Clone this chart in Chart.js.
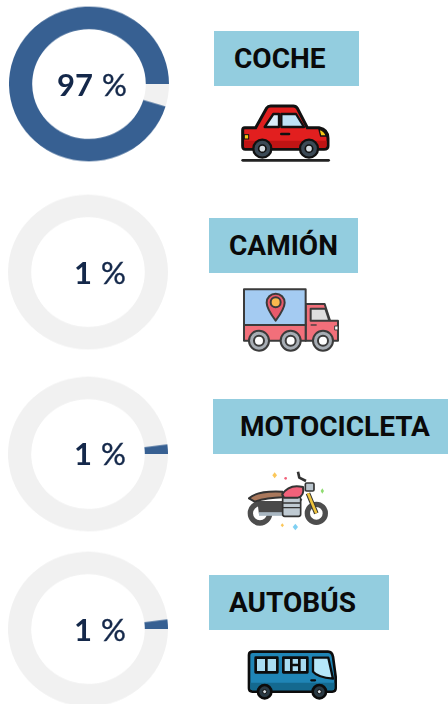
<!DOCTYPE html>
<html lang="es">
<head>
<meta charset="UTF-8">
<title>Vehículos</title>
<script src="https://cdn.jsdelivr.net/npm/chart.js"></script>
<style>
  html, body { margin: 0; padding: 0; background: #fff; }
  body { position: relative; width: 448px; height: 704px; overflow: hidden; }
  canvas { position: absolute; transform: scaleY(0.967); }
  #d0 { left: 9px; top: 4px; }
  #d1 { left: 8px; top: 192px; }
  #d2 { left: 8px; top: 374px; }
  #d3 { left: 8px; top: 549px; }
  .pct { position: absolute; font: 700 31px/40px Lato, sans-serif; color: #14284a; white-space: nowrap; }
  .pct span { font-weight: 400; margin-left: 9px; -webkit-text-stroke: 0.4px #14284a; }
  #p0 { left: 57px; top: 64px; }
  #p1 { left: 74px; top: 252px; }
  #p2 { left: 74px; top: 433px; }
  #p3 { left: 74px; top: 609px; }
  .tag { position: absolute; background: #93cddf; color: #0a0a0a; font: 700 28px/55px Roboto, sans-serif; height: 55px; white-space: nowrap; box-sizing: border-box; }
  #t0 { left: 214px; top: 31px; width: 145px; padding-left: 20px; }
  #t1 { left: 209px; top: 218px; width: 149px; padding-left: 20px; }
  #t2 { left: 213px; top: 399px; width: 235px; padding-left: 27px; }
  #t3 { left: 209px; top: 575px; width: 180px; padding-left: 20px; }
  svg { position: absolute; left: 0; top: 0; }
</style>
</head>
<body>
  <canvas id="d0" width="160" height="160"></canvas>
  <canvas id="d1" width="160" height="160"></canvas>
  <canvas id="d2" width="160" height="160"></canvas>
  <canvas id="d3" width="160" height="160"></canvas>
  <div class="pct" id="p0"></div>
  <div class="pct" id="p1"></div>
  <div class="pct" id="p2"></div>
  <div class="pct" id="p3"></div>
  <div class="tag" id="t0"></div>
  <div class="tag" id="t1"></div>
  <div class="tag" id="t2"></div>
  <div class="tag" id="t3"></div>

  <!-- icons, drawn in 3x crop units -->
  <svg width="448" height="704" viewBox="0 0 448 704">
    <g transform="translate(224 90) scale(.3333)">
      <path d="M62 113H95L128 54Q132 48 140 48H208Q216 48 220 55L250 113H285Q312 118 312 145V168Q312 178 300 178H64Q56 178 56 168V120Q56 113 62 113Z" fill="#e21f1f" stroke="#111" stroke-width="9"/>
      <path d="M60 152H308V168Q308 174 300 174H64Q60 174 60 168Z" fill="#c01414"/>
      <path d="M148 72H165V111H122Z" fill="#d9eefa" stroke="#111" stroke-width="7" stroke-linejoin="round"/>
      <path d="M172 72H216L240 111H172Z" fill="#bfe2f6" stroke="#111" stroke-width="7" stroke-linejoin="round"/>
      <path d="M172 132H195" stroke="#111" stroke-width="8" stroke-linecap="round"/>
      <path d="M285 118Q303 122 307 138H290Z" fill="#f7c815" stroke="#111" stroke-width="4"/>
      <rect x="61" y="134" width="13" height="13" fill="#f7c815" stroke="#111" stroke-width="3"/>
      <circle cx="115" cy="176" r="27" fill="#3c4a56" stroke="#111" stroke-width="7"/>
      <circle cx="115" cy="176" r="11" fill="#d5dde2" stroke="#111" stroke-width="5"/>
      <circle cx="255" cy="176" r="27" fill="#3c4a56" stroke="#111" stroke-width="7"/>
      <circle cx="255" cy="176" r="11" fill="#d5dde2" stroke="#111" stroke-width="5"/>
      <path d="M56 211H314" stroke="#222" stroke-width="8" stroke-linecap="round"/>
    </g>
    <g transform="translate(224 280) scale(.3333)" stroke="#3b3b3b" stroke-width="6" stroke-linejoin="round">
      <path d="M245 72H302L318 122H342V182H245Z" fill="#f26f7a"/>
      <rect x="60" y="135" width="185" height="47" fill="#f26f7a"/>
      <rect x="60" y="28" width="185" height="107" fill="#a4cbf2"/>
      <path d="M260 86H304L316 122H260Z" fill="#dedede"/>
      <path d="M260 135H278" stroke-width="4"/>
      <rect x="332" y="138" width="10" height="12" fill="#fff" stroke-width="3"/>
      <path d="M155 122Q128 85 128 68A27 27 0 0 1 182 68Q182 85 155 122Z" fill="#e85a6b"/>
      <circle cx="155" cy="67" r="15" fill="#fbb84d"/>
      <circle cx="105" cy="182" r="30" fill="#a7adb4"/>
      <circle cx="105" cy="182" r="15" fill="#fff"/>
      <circle cx="200" cy="182" r="30" fill="#a7adb4"/>
      <circle cx="200" cy="182" r="15" fill="#fff"/>
      <circle cx="297" cy="182" r="30" fill="#a7adb4"/>
      <circle cx="297" cy="182" r="15" fill="#fff"/>
    </g>
    <g transform="translate(234 465) scale(.3333)" stroke="#333" stroke-width="5" stroke-linejoin="round">
      <circle cx="78" cy="145" r="29" fill="#fff" stroke="#4d4d4d" stroke-width="16"/>
      <circle cx="247" cy="145" r="27" fill="#fff" stroke="#4d4d4d" stroke-width="16"/>
      <path d="M70 108H148V150L75 148Z" fill="#4a4a4a" stroke="none"/>
      <path d="M75 147H165" stroke="#a9b7c2" stroke-width="11"/>
      <path d="M200 100L165 152" stroke="#4a4a4a" stroke-width="12"/>
      <rect x="146" y="96" width="54" height="58" rx="6" fill="#bfcad2"/>
      <path d="M146 114H200M146 128H200" stroke-width="4"/>
      <path d="M45 100Q70 76 146 80V97Q100 98 62 110Z" fill="#a9785c" stroke-width="6"/>
      <path d="M145 88Q165 56 207 66Q212 92 192 98H150Z" fill="#f2617a" stroke-width="6"/>
      <path d="M222 85L247 145" stroke="#333" stroke-width="14"/>
      <path d="M222 85L247 145" stroke="#f0c53d" stroke-width="8"/>
      <path d="M192 20L196 38L216 48" fill="none" stroke="#333" stroke-width="8"/>
      <rect x="214" y="54" width="26" height="24" rx="4" fill="#b9c4cc"/>
      <g stroke="none">
        <path d="M122 22L129 31L122 40L115 31Z" fill="#fbc75a"/>
        <circle cx="155" cy="40" r="4" fill="#f2617a"/>
        <path d="M265 70L270 78L265 86L260 78Z" fill="#8fdc70"/>
        <path d="M145 175L150 181L145 187L140 181Z" fill="#fbc75a"/>
        <path d="M184 176L192 186L184 196L176 186Z" fill="#7fd0f2"/>
      </g>
    </g>
    <g transform="translate(234 640) scale(.3333)" stroke="#0c0c0c" stroke-linejoin="round">
      <path d="M56 35H282Q294 35 297 50L305 110V145Q305 155 295 155H55Q45 155 45 145V45Q45 35 56 35Z" fill="#1f85b6" stroke-width="8"/>
      <path d="M49 128H301V145Q301 151 295 151H55Q49 151 49 145Z" fill="#14698f" stroke="none"/>
      <rect x="65" y="53" width="65" height="44" fill="#a9dcf2" stroke-width="8"/>
      <path d="M97 53V97" stroke-width="8"/>
      <rect x="148" y="53" width="72" height="44" fill="#a9dcf2" stroke-width="8"/>
      <path d="M172 53V97M196 53V97M172 75H196" stroke-width="8"/>
      <path d="M237 53H283L297 116Q250 112 237 95Z" fill="#b5e6f9" stroke-width="7"/>
      <path d="M232 121H243" stroke-width="7" stroke-linecap="round"/>
      <circle cx="92" cy="155" r="20" fill="#2a3a44" stroke-width="8"/>
      <circle cx="92" cy="155" r="6" fill="#d5dde2" stroke-width="3"/>
      <circle cx="256" cy="155" r="20" fill="#2a3a44" stroke-width="8"/>
      <circle cx="256" cy="155" r="6" fill="#d5dde2" stroke-width="3"/>
    </g>
  </svg>

<script>
// values printed in the middle of each ring
var categories = ["COCHE", "CAMIÓN", "MOTOCICLETA", "AUTOBÚS"];
var printedPercent = [97, 1, 1, 1];
// blue and grey parts as they look in the picture (the arcs do not follow the printed numbers)
var blueShare = [95.3, 0, 2, 2];
var greyShare = [4.7, 100, 98, 98];

var blue = "#376092";
var grey = "#f1f1f1";

categories.forEach(function (name, i) {
  new Chart(document.getElementById("d" + i), {
    type: "doughnut",
    data: {
      labels: ["Resto", name],
      datasets: [{
        data: [greyShare[i], blueShare[i]],
        backgroundColor: [grey, blue],
        borderWidth: 0
      }]
    },
    options: {
      responsive: false,
      animation: false,
      rotation: 90,
      cutout: "71%",
      plugins: { legend: { display: false }, tooltip: { enabled: false } }
    }
  });
  document.getElementById("p" + i).innerHTML = printedPercent[i] + "<span>%</span>";
  document.getElementById("t" + i).textContent = name;
});
</script>
</body>
</html>
